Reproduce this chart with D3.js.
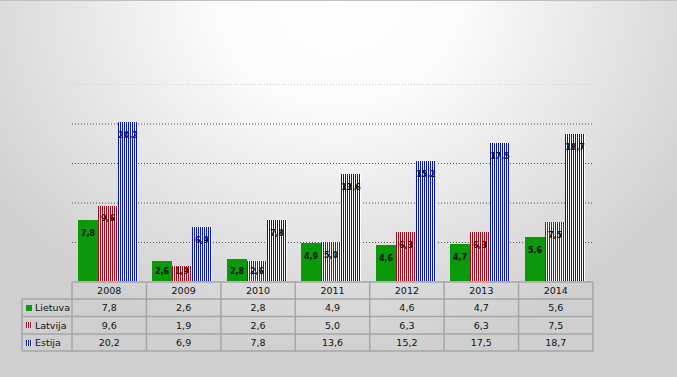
<!DOCTYPE html>
<html>
<head>
<meta charset="utf-8">
<script src="https://cdn.jsdelivr.net/npm/d3@7"></script>
<style>
  body { margin: 0; background: #d2d2d2; }
  svg { display: block; }
</style>
</head>
<body>
<div id="chart"></div>
<script>
// data
var years = ["2008", "2009", "2010", "2011", "2012", "2013", "2014"];
var seriesNames = ["Lietuva", "Latvija", "Estija"];
var lietuva = [7.8, 2.6, 2.8, 4.9, 4.6, 4.7, 5.6];
var latvija = [9.6, 1.9, 2.6, 5.0, 6.3, 6.3, 7.5];
var estija = [20.2, 6.9, 7.8, 13.6, 15.2, 17.5, 18.7];
var gridTicks = [5, 10, 15, 20, 25];

var seriesValues = [lietuva, latvija, estija];

var w = 677, h = 377;
var fmt = d3.formatLocale({ decimal: ",", thousands: " ", grouping: [3], currency: ["", ""] }).format(".1f");

var svg = d3.select("#chart").append("svg")
    .attr("width", w)
    .attr("height", h);

var defs = svg.append("defs");

// background: white glow at top centre fading to grey
var bg = defs.append("radialGradient")
    .attr("id", "bg")
    .attr("gradientUnits", "userSpaceOnUse")
    .attr("cx", 338).attr("cy", 0)
    .attr("r", 420)
    .attr("gradientTransform", "translate(338,0) scale(1,0.85) translate(-338,0)");
bg.append("stop").attr("offset", "0").attr("stop-color", "#ffffff");
bg.append("stop").attr("offset", "0.3").attr("stop-color", "#fbfbfb");
bg.append("stop").attr("offset", "0.6").attr("stop-color", "#e8e8e8");
bg.append("stop").attr("offset", "1").attr("stop-color", "#cfcfcf");

svg.append("rect")
    .attr("width", w).attr("height", h)
    .attr("fill", "url(#bg)");
svg.append("line")
    .attr("x1", 0).attr("x2", w).attr("y1", 0.5).attr("y2", 0.5)
    .attr("stroke", "#c8bcc8");

// stripe patterns
function stripes(id, color) {
    var p = defs.append("pattern")
        .attr("id", id)
        .attr("patternUnits", "userSpaceOnUse")
        .attr("width", 2).attr("height", 4);
    p.append("rect").attr("width", 2).attr("height", 4).attr("fill", "#ffffff");
    p.append("rect").attr("width", 1).attr("height", 4).attr("fill", color);
}
stripes("redStripe", "#b00010");
stripes("blueStripe", "#0010d8");

var fills = ["#0b990b", "url(#redStripe)", "url(#blueStripe)"];

// scales
var x = d3.scaleBand()
    .domain(years)
    .range([72, 593]);

var xInner = d3.scaleBand()
    .domain(seriesNames)
    .range([6, 66]);

var y = d3.scaleLinear()
    .domain([0, 25])
    .range([281.5, 84]);

// gridlines
var grid = svg.append("g")
    .attr("transform", "translate(72,0)")
    .call(d3.axisLeft(y).tickValues(gridTicks).tickSize(-(593 - 72)).tickFormat(""));
grid.select(".domain").remove();
grid.selectAll(".tick line")
    .attr("stroke", function (d) { return d === 25 ? "#cccccc" : "#555555"; })
    .attr("stroke-dasharray", "1,2");

// bars
var groups = svg.selectAll("g.year")
    .data(years)
    .enter()
    .append("g")
    .attr("class", "year")
    .attr("transform", function (d) { return "translate(" + Math.round(x(d)) + ",0)"; });

seriesNames.forEach(function (name, s) {
    groups.append("rect")
        .attr("x", function (d) { return xInner(name); })
        .attr("y", function (d, i) { return Math.round(y(seriesValues[s][i])); })
        .attr("width", xInner.bandwidth())
        .attr("height", function (d, i) { return 281 - Math.round(y(seriesValues[s][i])); })
        .attr("fill", fills[s]);
});

seriesNames.forEach(function (name, s) {
    groups.append("text")
        .attr("x", function (d) { return xInner(name) + xInner.bandwidth() / 2; })
        .attr("y", function (d, i) {
            var top = y(seriesValues[s][i]);
            return Math.min(top + 13, y(0) - 10);
        })
        .attr("dy", "0.35em")
        .attr("text-anchor", "middle")
        .attr("font-family", "DejaVu Sans, sans-serif")
        .attr("font-size", "8px")
        .attr("font-weight", "bold")
        .attr("fill", "#111")
        .text(function (d, i) { return fmt(seriesValues[s][i]); });
});

// data table
var rowTop = [282, 299, 316.5, 334, 351];
var labelLeft = 22;
var tableLeft = x.range()[0], tableRight = x.range()[1];
var table = svg.append("g");
var border = "#a6a6a6";

// horizontal lines
rowTop.forEach(function (ty, i) {
    table.append("line")
        .attr("x1", i === 0 ? tableLeft : labelLeft).attr("x2", tableRight)
        .attr("y1", ty).attr("y2", ty)
        .attr("stroke", border).attr("stroke-width", 1.5);
});
// vertical lines
var colEdges = years.map(function (d) { return x(d); }).concat([tableRight]);
colEdges.forEach(function (cx) {
    table.append("line")
        .attr("x1", cx).attr("x2", cx)
        .attr("y1", rowTop[0]).attr("y2", rowTop[4])
        .attr("stroke", border).attr("stroke-width", 1.5);
});
table.append("line")
    .attr("x1", labelLeft).attr("x2", labelLeft)
    .attr("y1", rowTop[1]).attr("y2", rowTop[4])
    .attr("stroke", border).attr("stroke-width", 1.5);

var textStyle = function (sel) {
    sel.attr("font-family", "DejaVu Sans, sans-serif")
        .attr("font-size", "9.5px")
        .attr("fill", "#111")
        .attr("dy", "0.35em");
};

// header
table.selectAll("text.year")
    .data(years)
    .enter()
    .append("text")
    .attr("class", "year")
    .attr("x", function (d) { return x(d) + x.bandwidth() / 2; })
    .attr("y", (rowTop[0] + rowTop[1]) / 2)
    .attr("text-anchor", "middle")
    .call(textStyle)
    .text(function (d) { return d; });

// rows
seriesNames.forEach(function (name, s) {
    var cy = (rowTop[s + 1] + rowTop[s + 2]) / 2;
    table.append("rect")
        .attr("x", 26).attr("y", Math.round(cy - 3))
        .attr("width", 6).attr("height", 6)
        .attr("fill", fills[s]);
    table.append("text")
        .attr("x", 35).attr("y", cy)
        .call(textStyle)
        .text(name);
    table.selectAll("text.v" + s)
        .data(seriesValues[s])
        .enter()
        .append("text")
        .attr("class", "v" + s)
        .attr("x", function (d, i) { return x(years[i]) + x.bandwidth() / 2; })
        .attr("y", cy)
        .attr("text-anchor", "middle")
        .call(textStyle)
        .text(function (d) { return fmt(d); });
});
</script>
</body>
</html>
